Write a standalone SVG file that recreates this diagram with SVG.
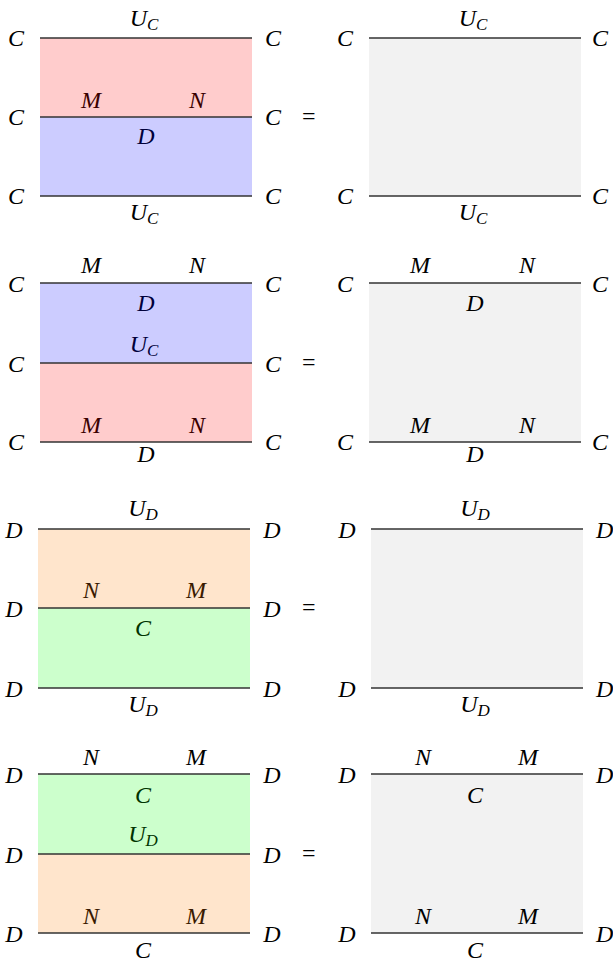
<svg xmlns="http://www.w3.org/2000/svg" width="613" height="964" viewBox="0 0 613 964">
<style>
.ln{stroke:#333;stroke-width:1.3;fill:none}
.pink{fill:#ffcccc}.blue{fill:#ccccff}.peach{fill:#ffe5cc}.green{fill:#ccffcc}.grey{fill:#f2f2f2}
</style>
<rect width="613" height="964" fill="#fff"/>
<g id="p1-left">
<rect class="pink" x="40" y="38" width="212" height="79"/>
<rect class="blue" x="40" y="117" width="212" height="79"/>
<text x="144" y="26" text-anchor="middle" font-family="Liberation Serif, Times New Roman, serif" font-style="italic" font-size="24">U<tspan font-size="17" dy="4">C</tspan></text>
<text x="144" y="220" text-anchor="middle" font-family="Liberation Serif, Times New Roman, serif" font-style="italic" font-size="24">U<tspan font-size="17" dy="4">C</tspan></text>
<text x="91" y="108" text-anchor="middle" font-family="Liberation Serif, Times New Roman, serif" font-style="italic" font-size="24" fill="#3a0000">M</text>
<text x="197" y="108" text-anchor="middle" font-family="Liberation Serif, Times New Roman, serif" font-style="italic" font-size="24" fill="#3a0000">N</text>
<text x="146" y="144" text-anchor="middle" font-family="Liberation Serif, Times New Roman, serif" font-style="italic" font-size="24" fill="#00003a">D</text>
<text x="16" y="46" text-anchor="middle" font-family="Liberation Serif, Times New Roman, serif" font-style="italic" font-size="24">C</text>
<text x="16" y="125" text-anchor="middle" font-family="Liberation Serif, Times New Roman, serif" font-style="italic" font-size="24">C</text>
<text x="16" y="204" text-anchor="middle" font-family="Liberation Serif, Times New Roman, serif" font-style="italic" font-size="24">C</text>
<text x="273" y="46" text-anchor="middle" font-family="Liberation Serif, Times New Roman, serif" font-style="italic" font-size="24">C</text>
<text x="273" y="125" text-anchor="middle" font-family="Liberation Serif, Times New Roman, serif" font-style="italic" font-size="24">C</text>
<text x="273" y="204" text-anchor="middle" font-family="Liberation Serif, Times New Roman, serif" font-style="italic" font-size="24">C</text>
</g>
<text x="302" y="124" font-family="Liberation Serif, Times New Roman, serif" font-size="24">=</text>
<g id="p1-right">
<rect class="grey" x="369" y="38" width="212" height="158"/>
<text x="473" y="26" text-anchor="middle" font-family="Liberation Serif, Times New Roman, serif" font-style="italic" font-size="24">U<tspan font-size="17" dy="4">C</tspan></text>
<text x="473" y="220" text-anchor="middle" font-family="Liberation Serif, Times New Roman, serif" font-style="italic" font-size="24">U<tspan font-size="17" dy="4">C</tspan></text>
<text x="345" y="46" text-anchor="middle" font-family="Liberation Serif, Times New Roman, serif" font-style="italic" font-size="24">C</text>
<text x="345" y="204" text-anchor="middle" font-family="Liberation Serif, Times New Roman, serif" font-style="italic" font-size="24">C</text>
<text x="592" y="46" font-family="Liberation Serif, Times New Roman, serif" font-style="italic" font-size="24">C</text>
<text x="592" y="204" font-family="Liberation Serif, Times New Roman, serif" font-style="italic" font-size="24">C</text>
</g>
<g id="p2-left">
<rect class="blue" x="40" y="283" width="212" height="80"/>
<rect class="pink" x="40" y="363" width="212" height="79"/>
<text x="91" y="273" text-anchor="middle" font-family="Liberation Serif, Times New Roman, serif" font-style="italic" font-size="24">M</text>
<text x="197" y="273" text-anchor="middle" font-family="Liberation Serif, Times New Roman, serif" font-style="italic" font-size="24">N</text>
<text x="146" y="311" text-anchor="middle" font-family="Liberation Serif, Times New Roman, serif" font-style="italic" font-size="24" fill="#00003a">D</text>
<text x="144" y="352" text-anchor="middle" font-family="Liberation Serif, Times New Roman, serif" font-style="italic" font-size="24" fill="#00003a">U<tspan font-size="17" dy="4">C</tspan></text>
<text x="91" y="433" text-anchor="middle" font-family="Liberation Serif, Times New Roman, serif" font-style="italic" font-size="24" fill="#3a0000">M</text>
<text x="197" y="433" text-anchor="middle" font-family="Liberation Serif, Times New Roman, serif" font-style="italic" font-size="24" fill="#3a0000">N</text>
<text x="146" y="462" text-anchor="middle" font-family="Liberation Serif, Times New Roman, serif" font-style="italic" font-size="24">D</text>
<text x="16" y="292" text-anchor="middle" font-family="Liberation Serif, Times New Roman, serif" font-style="italic" font-size="24">C</text>
<text x="16" y="372" text-anchor="middle" font-family="Liberation Serif, Times New Roman, serif" font-style="italic" font-size="24">C</text>
<text x="16" y="450" text-anchor="middle" font-family="Liberation Serif, Times New Roman, serif" font-style="italic" font-size="24">C</text>
<text x="273" y="292" text-anchor="middle" font-family="Liberation Serif, Times New Roman, serif" font-style="italic" font-size="24">C</text>
<text x="273" y="372" text-anchor="middle" font-family="Liberation Serif, Times New Roman, serif" font-style="italic" font-size="24">C</text>
<text x="273" y="450" text-anchor="middle" font-family="Liberation Serif, Times New Roman, serif" font-style="italic" font-size="24">C</text>
</g>
<text x="302" y="370" font-family="Liberation Serif, Times New Roman, serif" font-size="24">=</text>
<g id="p2-right">
<rect class="grey" x="369" y="283" width="212" height="159"/>
<text x="420" y="273" text-anchor="middle" font-family="Liberation Serif, Times New Roman, serif" font-style="italic" font-size="24">M</text>
<text x="527" y="273" text-anchor="middle" font-family="Liberation Serif, Times New Roman, serif" font-style="italic" font-size="24">N</text>
<text x="475" y="311" text-anchor="middle" font-family="Liberation Serif, Times New Roman, serif" font-style="italic" font-size="24">D</text>
<text x="420" y="433" text-anchor="middle" font-family="Liberation Serif, Times New Roman, serif" font-style="italic" font-size="24">M</text>
<text x="527" y="433" text-anchor="middle" font-family="Liberation Serif, Times New Roman, serif" font-style="italic" font-size="24">N</text>
<text x="475" y="462" text-anchor="middle" font-family="Liberation Serif, Times New Roman, serif" font-style="italic" font-size="24">D</text>
<text x="345" y="292" text-anchor="middle" font-family="Liberation Serif, Times New Roman, serif" font-style="italic" font-size="24">C</text>
<text x="345" y="450" text-anchor="middle" font-family="Liberation Serif, Times New Roman, serif" font-style="italic" font-size="24">C</text>
<text x="592" y="292" font-family="Liberation Serif, Times New Roman, serif" font-style="italic" font-size="24">C</text>
<text x="592" y="450" font-family="Liberation Serif, Times New Roman, serif" font-style="italic" font-size="24">C</text>
</g>
<g id="p3-left">
<rect class="peach" x="38" y="529" width="212" height="79"/>
<rect class="green" x="38" y="608" width="212" height="80"/>
<text x="143" y="516" text-anchor="middle" font-family="Liberation Serif, Times New Roman, serif" font-style="italic" font-size="24">U<tspan font-size="17" dy="4">D</tspan></text>
<text x="143" y="712" text-anchor="middle" font-family="Liberation Serif, Times New Roman, serif" font-style="italic" font-size="24">U<tspan font-size="17" dy="4">D</tspan></text>
<text x="91" y="598" text-anchor="middle" font-family="Liberation Serif, Times New Roman, serif" font-style="italic" font-size="24" fill="#3a1a00">N</text>
<text x="196" y="598" text-anchor="middle" font-family="Liberation Serif, Times New Roman, serif" font-style="italic" font-size="24" fill="#3a1a00">M</text>
<text x="143" y="636" text-anchor="middle" font-family="Liberation Serif, Times New Roman, serif" font-style="italic" font-size="24" fill="#003300">C</text>
<text x="14" y="538" text-anchor="middle" font-family="Liberation Serif, Times New Roman, serif" font-style="italic" font-size="24">D</text>
<text x="14" y="617" text-anchor="middle" font-family="Liberation Serif, Times New Roman, serif" font-style="italic" font-size="24">D</text>
<text x="14" y="697" text-anchor="middle" font-family="Liberation Serif, Times New Roman, serif" font-style="italic" font-size="24">D</text>
<text x="272" y="538" text-anchor="middle" font-family="Liberation Serif, Times New Roman, serif" font-style="italic" font-size="24">D</text>
<text x="272" y="617" text-anchor="middle" font-family="Liberation Serif, Times New Roman, serif" font-style="italic" font-size="24">D</text>
<text x="272" y="697" text-anchor="middle" font-family="Liberation Serif, Times New Roman, serif" font-style="italic" font-size="24">D</text>
</g>
<text x="302" y="615" font-family="Liberation Serif, Times New Roman, serif" font-size="24">=</text>
<g id="p3-right">
<rect class="grey" x="371" y="529" width="212" height="159"/>
<text x="475" y="516" text-anchor="middle" font-family="Liberation Serif, Times New Roman, serif" font-style="italic" font-size="24">U<tspan font-size="17" dy="4">D</tspan></text>
<text x="475" y="712" text-anchor="middle" font-family="Liberation Serif, Times New Roman, serif" font-style="italic" font-size="24">U<tspan font-size="17" dy="4">D</tspan></text>
<text x="347" y="538" text-anchor="middle" font-family="Liberation Serif, Times New Roman, serif" font-style="italic" font-size="24">D</text>
<text x="347" y="697" text-anchor="middle" font-family="Liberation Serif, Times New Roman, serif" font-style="italic" font-size="24">D</text>
<text x="596" y="538" font-family="Liberation Serif, Times New Roman, serif" font-style="italic" font-size="24">D</text>
<text x="596" y="697" font-family="Liberation Serif, Times New Roman, serif" font-style="italic" font-size="24">D</text>
</g>
<g id="p4-left">
<rect class="green" x="38" y="774" width="212" height="80"/>
<rect class="peach" x="38" y="854" width="212" height="79"/>
<text x="91" y="765" text-anchor="middle" font-family="Liberation Serif, Times New Roman, serif" font-style="italic" font-size="24">N</text>
<text x="196" y="765" text-anchor="middle" font-family="Liberation Serif, Times New Roman, serif" font-style="italic" font-size="24">M</text>
<text x="143" y="803" text-anchor="middle" font-family="Liberation Serif, Times New Roman, serif" font-style="italic" font-size="24" fill="#003300">C</text>
<text x="143" y="842" text-anchor="middle" font-family="Liberation Serif, Times New Roman, serif" font-style="italic" font-size="24" fill="#003300">U<tspan font-size="17" dy="4">D</tspan></text>
<text x="91" y="924" text-anchor="middle" font-family="Liberation Serif, Times New Roman, serif" font-style="italic" font-size="24" fill="#3a1a00">N</text>
<text x="196" y="924" text-anchor="middle" font-family="Liberation Serif, Times New Roman, serif" font-style="italic" font-size="24" fill="#3a1a00">M</text>
<text x="143" y="958" text-anchor="middle" font-family="Liberation Serif, Times New Roman, serif" font-style="italic" font-size="24">C</text>
<text x="14" y="783" text-anchor="middle" font-family="Liberation Serif, Times New Roman, serif" font-style="italic" font-size="24">D</text>
<text x="14" y="863" text-anchor="middle" font-family="Liberation Serif, Times New Roman, serif" font-style="italic" font-size="24">D</text>
<text x="14" y="942" text-anchor="middle" font-family="Liberation Serif, Times New Roman, serif" font-style="italic" font-size="24">D</text>
<text x="272" y="783" text-anchor="middle" font-family="Liberation Serif, Times New Roman, serif" font-style="italic" font-size="24">D</text>
<text x="272" y="863" text-anchor="middle" font-family="Liberation Serif, Times New Roman, serif" font-style="italic" font-size="24">D</text>
<text x="272" y="942" text-anchor="middle" font-family="Liberation Serif, Times New Roman, serif" font-style="italic" font-size="24">D</text>
</g>
<text x="302" y="861" font-family="Liberation Serif, Times New Roman, serif" font-size="24">=</text>
<g id="p4-right">
<rect class="grey" x="371" y="774" width="212" height="159"/>
<text x="423" y="765" text-anchor="middle" font-family="Liberation Serif, Times New Roman, serif" font-style="italic" font-size="24">N</text>
<text x="528" y="765" text-anchor="middle" font-family="Liberation Serif, Times New Roman, serif" font-style="italic" font-size="24">M</text>
<text x="475" y="803" text-anchor="middle" font-family="Liberation Serif, Times New Roman, serif" font-style="italic" font-size="24">C</text>
<text x="423" y="924" text-anchor="middle" font-family="Liberation Serif, Times New Roman, serif" font-style="italic" font-size="24">N</text>
<text x="528" y="924" text-anchor="middle" font-family="Liberation Serif, Times New Roman, serif" font-style="italic" font-size="24">M</text>
<text x="475" y="958" text-anchor="middle" font-family="Liberation Serif, Times New Roman, serif" font-style="italic" font-size="24">C</text>
<text x="347" y="783" text-anchor="middle" font-family="Liberation Serif, Times New Roman, serif" font-style="italic" font-size="24">D</text>
<text x="347" y="942" text-anchor="middle" font-family="Liberation Serif, Times New Roman, serif" font-style="italic" font-size="24">D</text>
<text x="596" y="783" font-family="Liberation Serif, Times New Roman, serif" font-style="italic" font-size="24">D</text>
<text x="596" y="942" font-family="Liberation Serif, Times New Roman, serif" font-style="italic" font-size="24">D</text>
</g>
<g id="connectors">
<line class="ln" x1="40" y1="38" x2="252" y2="38"/>
<line class="ln" x1="40" y1="117" x2="252" y2="117"/>
<line class="ln" x1="40" y1="196" x2="252" y2="196"/>
<line class="ln" x1="369" y1="38" x2="581" y2="38"/>
<line class="ln" x1="369" y1="196" x2="581" y2="196"/>
<line class="ln" x1="40" y1="283" x2="252" y2="283"/>
<line class="ln" x1="40" y1="363" x2="252" y2="363"/>
<line class="ln" x1="40" y1="442" x2="252" y2="442"/>
<line class="ln" x1="369" y1="283" x2="581" y2="283"/>
<line class="ln" x1="369" y1="442" x2="581" y2="442"/>
<line class="ln" x1="38" y1="529" x2="250" y2="529"/>
<line class="ln" x1="38" y1="608" x2="250" y2="608"/>
<line class="ln" x1="38" y1="688" x2="250" y2="688"/>
<line class="ln" x1="371" y1="529" x2="583" y2="529"/>
<line class="ln" x1="371" y1="688" x2="583" y2="688"/>
<line class="ln" x1="38" y1="774" x2="250" y2="774"/>
<line class="ln" x1="38" y1="854" x2="250" y2="854"/>
<line class="ln" x1="38" y1="933" x2="250" y2="933"/>
<line class="ln" x1="371" y1="774" x2="583" y2="774"/>
<line class="ln" x1="371" y1="933" x2="583" y2="933"/>
</g>
</svg>
